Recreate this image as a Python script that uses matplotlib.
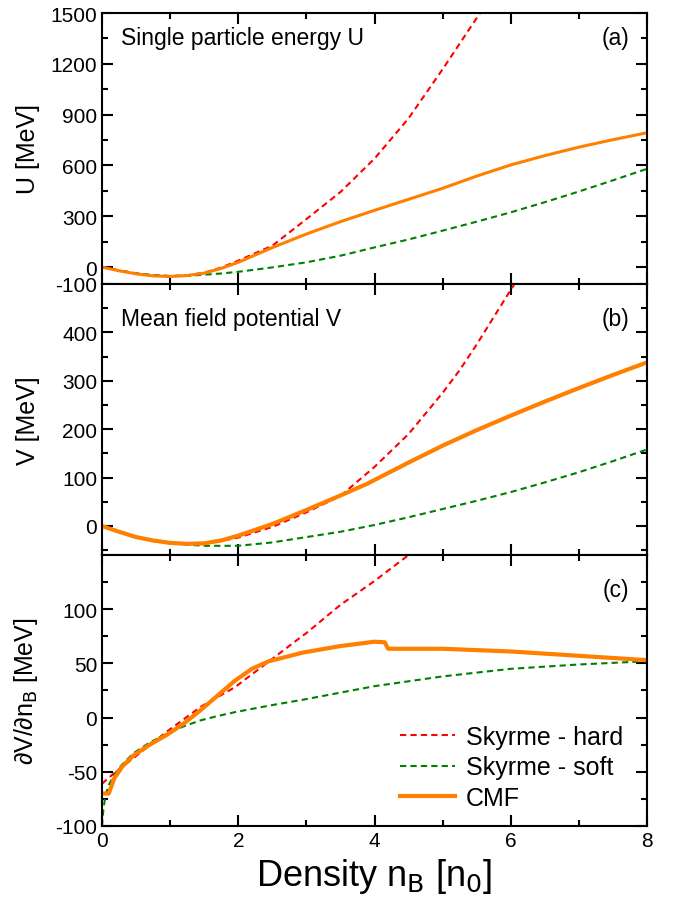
import numpy as np
import matplotlib
matplotlib.use("Agg")
import matplotlib.pyplot as plt
from matplotlib.ticker import MultipleLocator, FixedLocator

plt.rcParams['font.family'] = ['Liberation Sans', 'DejaVu Sans']
plt.rcParams['mathtext.default'] = 'regular'
plt.rcParams['axes.unicode_minus'] = False

# ---------------- Data ----------------
# Panel (a): single particle energy U [MeV]
x_a_hard = [0, 0.25, 0.5, 0.75, 1.0, 1.25, 1.5, 1.75, 2.0, 2.5, 3.0, 3.5, 4.0, 4.5, 5.0, 5.5, 5.65]
U_hard = [0, -20, -37, -48, -53, -49, -33, -3, 38, 126, 283, 443, 640, 878, 1168, 1470, 1560]
x_a_soft = [0, 0.25, 0.5, 0.75, 1.0, 1.25, 1.5, 1.75, 2.0, 2.5, 3.0, 3.5, 4.0, 4.5, 5.0, 5.5, 6.0, 6.5, 7.0, 7.5, 8.0]
U_soft = [0, -20, -37, -48, -53, -52, -45, -38, -28, -2, 28, 67, 116, 163, 215, 268, 323, 383, 446, 512, 580]
x_a_cmf = [0, 0.25, 0.5, 0.75, 1.0, 1.25, 1.5, 1.75, 2.0, 2.5, 3.0, 3.5, 4.0, 4.5, 5.0, 5.5, 6.0, 6.5, 7.0, 7.5, 8.0]
U_cmf = [0, -22, -40, -52, -56, -50, -36, -8, 28, 115, 195, 268, 335, 400, 465, 537, 603, 658, 708, 752, 793]

# Panel (b): mean field potential V [MeV]
x_b_hard = [0, 0.25, 0.5, 0.75, 1.0, 1.25, 1.5, 1.75, 2.0, 2.5, 3.0, 3.5, 3.7, 4.0, 4.5, 5.0, 5.25, 5.5, 6.0, 6.15]
V_hard = [0, -12, -23, -30, -35, -37, -36, -31, -24, -2, 28, 62, 86, 122, 190, 275, 322, 375, 488, 520]
x_b_soft = [0, 0.25, 0.5, 0.75, 1.0, 1.5, 2.0, 2.5, 3.0, 3.5, 4.0, 4.5, 5.0, 5.5, 6.0, 6.5, 7.0, 7.5, 8.0]
V_soft = [0, -12, -23, -31, -36, -41, -41, -34, -23, -12, 2, 18, 35, 52, 70, 90, 111, 134, 158]
x_b_cmf = [0, 0.25, 0.5, 0.75, 1.0, 1.25, 1.5, 1.75, 2.0, 2.5, 3.0, 3.5, 3.89, 4.0, 4.5, 5.0, 5.5, 6.0, 6.5, 7.0, 7.5, 8.0]
V_cmf = [0, -12, -23, -30, -35, -37, -36, -30, -20, 4, 33, 63, 87, 95, 131, 166, 198, 228, 257, 285, 312, 338]

# Panel (c): dV/dn_B [MeV]
x_c_hard = [0, 0.2, 0.45, 0.95, 1.45, 1.95, 2.35, 2.85, 3.0, 3.5, 4.0, 4.5, 4.6]
dV_hard = [-61, -50, -38, -13, 10, 28, 47, 71, 78, 104, 126, 150, 155]
x_c_soft = [0, 0.02, 0.05, 0.1, 0.2, 0.3, 0.46, 0.7, 0.95, 1.2, 1.45, 1.7, 1.95, 2.2, 2.45, 2.95, 4.0, 5.0, 6.0, 7.0, 8.0]
dV_soft = [-100, -85, -72, -62, -51, -43, -33, -23, -15, -8, -2.5, 1.5, 5, 8, 11, 16.5, 29, 38, 45, 49, 52]
x_c_cmf = [0, 0.1, 0.18, 0.3, 0.46, 0.7, 0.95, 1.2, 1.45, 1.7, 1.95, 2.2, 2.45, 2.95, 3.5, 4.0, 4.15, 4.2, 5.0, 6.0, 7.0, 8.0]
dV_cmf = [-70, -70, -56, -45, -35, -25, -16, -5.5, 7, 20.5, 34, 45, 52, 60, 66, 70, 69.5, 63.5, 63.5, 61, 57, 53]

labels = ["Skyrme - hard", "Skyrme - soft", "CMF"]
panel_titles = ["Single particle energy U", "Mean field potential V", None]
panel_tags = ["(a)", "(b)", "(c)"]

# ---------------- Figure ----------------
W, H = 673, 904
fig = plt.figure(figsize=(W / 100, H / 100), dpi=100)

left = 102 / W
width = (647 - 102) / W
ph = 271 / H
bottom_c = 1 - 827 / H
axes = []
for i in range(3):
    b = bottom_c + (2 - i) * ph
    axes.append(fig.add_axes([left, b, width, ph]))

red = '#ff0000'
green = '#008000'
orange = '#ff8000'
dash = (0, (3, 2))

def style(ax):
    for s in ax.spines.values():
        s.set_linewidth(1.5)
    ax.tick_params(which='both', direction='in', top=True, right=True, width=1.5)
    ax.tick_params(which='major', length=8, labelsize=15)
    ax.tick_params(which='minor', length=4.5)
    ax.set_xlim(0, 8)
    ax.xaxis.set_major_locator(MultipleLocator(2))
    ax.xaxis.set_minor_locator(MultipleLocator(1))

# (a)
ax = axes[0]
ax.plot(x_a_hard, U_hard, color=red, lw=1.5, ls=dash)
ax.plot(x_a_soft, U_soft, color=green, lw=1.5, ls=dash)
ax.plot(x_a_cmf, U_cmf, color=orange, lw=2.2)
ax.set_ylim(-100, 1500)
ax.yaxis.set_major_locator(FixedLocator([-100, 0, 300, 600, 900, 1200, 1500]))
ax.yaxis.set_minor_locator(FixedLocator([150, 450, 750, 1050, 1350]))
ax.set_ylabel("U [MeV]", fontsize=18)

# (b)
ax = axes[1]
ax.plot(x_b_hard, V_hard, color=red, lw=1.5, ls=dash)
ax.plot(x_b_soft, V_soft, color=green, lw=1.5, ls=dash)
ax.plot(x_b_cmf, V_cmf, color=orange, lw=3)
ax.set_ylim(-60, 500)
ax.yaxis.set_major_locator(FixedLocator([0, 100, 200, 300, 400]))
ax.yaxis.set_minor_locator(FixedLocator([-50, 50, 150, 250, 350, 450]))
ax.set_ylabel("V [MeV]", fontsize=18)

# (c)
ax = axes[2]
ax.plot(x_c_hard, dV_hard, color=red, lw=1.5, ls=dash, label=labels[0])
ax.plot(x_c_soft, dV_soft, color=green, lw=1.5, ls=dash, label=labels[1])
ax.plot(x_c_cmf, dV_cmf, color=orange, lw=3, label=labels[2])
ax.set_ylim(-100, 150)
ax.yaxis.set_major_locator(FixedLocator([-100, -50, 0, 50, 100]))
ax.yaxis.set_minor_locator(FixedLocator([-75, -25, 25, 75, 125]))
ax.set_ylabel("∂V/∂n$_\\mathrm{B}$ [MeV]", fontsize=18)
ax.set_xlabel("Density n$_\\mathrm{B}$ [n$_\\mathrm{0}$]", fontsize=26)
ax.xaxis.set_label_coords(0.5, -0.112)
leg = ax.legend(loc='lower right', frameon=False, fontsize=18, handlelength=2.2,
                handletextpad=0.45, labelspacing=0.25, borderpad=0, borderaxespad=0,
                bbox_to_anchor=(0.956, 0.06))

for i, ax in enumerate(axes):
    style(ax)
    ax.yaxis.set_label_coords(-0.114, 0.5)
    if i < 2:
        ax.tick_params(labelbottom=False)
    ty = 0.908 if i == 0 else 0.871
    if panel_titles[i]:
        ax.text(0.035, ty, panel_titles[i], transform=ax.transAxes,
                fontsize=16.5, va='center', ha='left')
    ax.text(0.968, ty, panel_tags[i], transform=ax.transAxes,
            fontsize=16.5, va='center', ha='right')

fig.savefig("out.png", dpi=100)
